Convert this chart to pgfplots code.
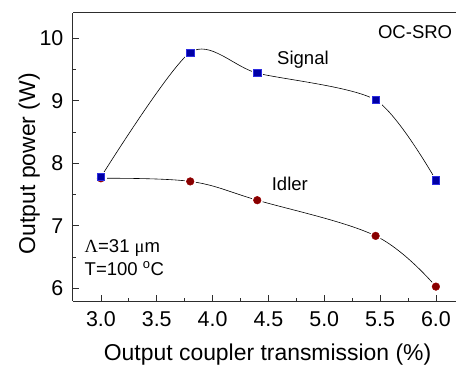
\documentclass[border=0pt]{standalone}
\usepackage{fontspec}
\setmainfont{Liberation Sans}
\newfontfamily\serifsym{Liberation Serif}
\usepackage{pgfplots}
\pgfplotsset{compat=1.18}
\usetikzlibrary{calc}

\definecolor{sigblue}{RGB}{0,0,165}
\definecolor{sigedge}{RGB}{45,45,225}
\definecolor{idred}{RGB}{135,0,0}
\definecolor{axgray}{RGB}{45,45,45}

\begin{document}
\begin{tikzpicture}
\begin{axis}[
  name=ax,
  scale only axis,
  width=383bp, height=288bp,
  xmin=2.75, xmax=6.18, ymin=5.8, ymax=10.4,
  axis lines*=left,
  axis line style={axgray, line width=1bp},
  tick style={axgray, line width=0.8bp},
  tick align=inside,
  major tick length=6bp, minor tick length=3.5bp,
  xtick={3,3.5,4,4.5,5,5.5,6},
  ytick={6,7,8,9,10},
  minor x tick num=1, minor y tick num=1,
  /pgf/number format/assume math mode=true,
  xticklabel style={/pgf/number format/.cd, fixed, fixed zerofill, precision=1, /tikz/.cd,
    font=\fontsize{21.5}{25}\selectfont, anchor=base, yshift=-25bp},
  yticklabel style={font=\fontsize{21.5}{25}\selectfont, anchor=east, inner sep=0pt, xshift=-9.4bp},
  xlabel={Output coupler transmission (\%)},
  xlabel style={at={(axis description cs:0.508,-0.2083)}, anchor=base, font=\fontsize{23}{27}\selectfont},
  ylabel={Output power (W)},
  ylabel style={at={(axis description cs:-0.0992,0.477)}, anchor=base, font=\fontsize{23}{27}\selectfont},
  clip=false,
]
% curves
\addplot[black, line width=0.6bp, smooth, tension=0.45] coordinates {
  (3.0,7.78) (3.8,9.77) (4.4,9.44) (5.46,9.01) (6.0,7.73)};
\addplot[black, line width=0.6bp, smooth, tension=0.6] coordinates {
  (3.0,7.76) (3.8,7.71) (4.4,7.41) (5.46,6.84) (6.0,6.03)};
% white halos
\addplot[only marks, mark=*, mark size=5.6bp, mark options={draw=white, fill=white}] coordinates {
  (3.0,7.76) (3.8,7.71) (4.4,7.41) (5.46,6.84) (6.0,6.03)};
\addplot[only marks, mark=square*, mark size=5.2bp, mark options={draw=white, fill=white}] coordinates {
  (3.0,7.78) (3.8,9.77) (4.4,9.44) (5.46,9.01) (6.0,7.73)};
% markers
\addplot[only marks, mark=*, mark size=3.8bp, mark options={draw=idred!85!red, fill=idred, line width=0.5bp}] coordinates {
  (3.0,7.76) (3.8,7.71) (4.4,7.41) (5.46,6.84) (6.0,6.03)};
\addplot[only marks, mark=square*, mark size=3.6bp, mark options={draw=sigedge, fill=sigblue, line width=0.5bp}] coordinates {
  (3.0,7.78) (3.8,9.77) (4.4,9.44) (5.46,9.01) (6.0,7.73)};
% annotations
\node[anchor=base west, inner sep=0pt, font=\fontsize{18.6}{22}\selectfont] at (axis cs:4.577,9.57) {Signal};
\node[anchor=base west, inner sep=0pt, font=\fontsize{18.6}{22}\selectfont] at (axis cs:4.529,7.557) {Idler};
\node[anchor=base west, inner sep=0pt, font=\fontsize{18.6}{22}\selectfont] at (axis cs:5.48,10.0) {OC-SRO};
\node[anchor=base west, inner sep=0pt, font=\fontsize{18.6}{22}\selectfont] at (axis cs:2.853,6.574) {{\serifsym Λ}=31 {\serifsym μ}m};
\node[anchor=base west, inner sep=0pt, font=\fontsize{18.6}{22}\selectfont] at (axis cs:2.853,6.215) {T=100 \textsuperscript{o}C};
\end{axis}
\draw[axgray, line width=1bp] (ax.north west) -- (ax.north east);
\pgfresetboundingbox
\path[use as bounding box] ($(ax.south west)+(-73bp,-65bp)$) rectangle ($(ax.north east)+(0bp,13bp)$);
\end{tikzpicture}
\end{document}
